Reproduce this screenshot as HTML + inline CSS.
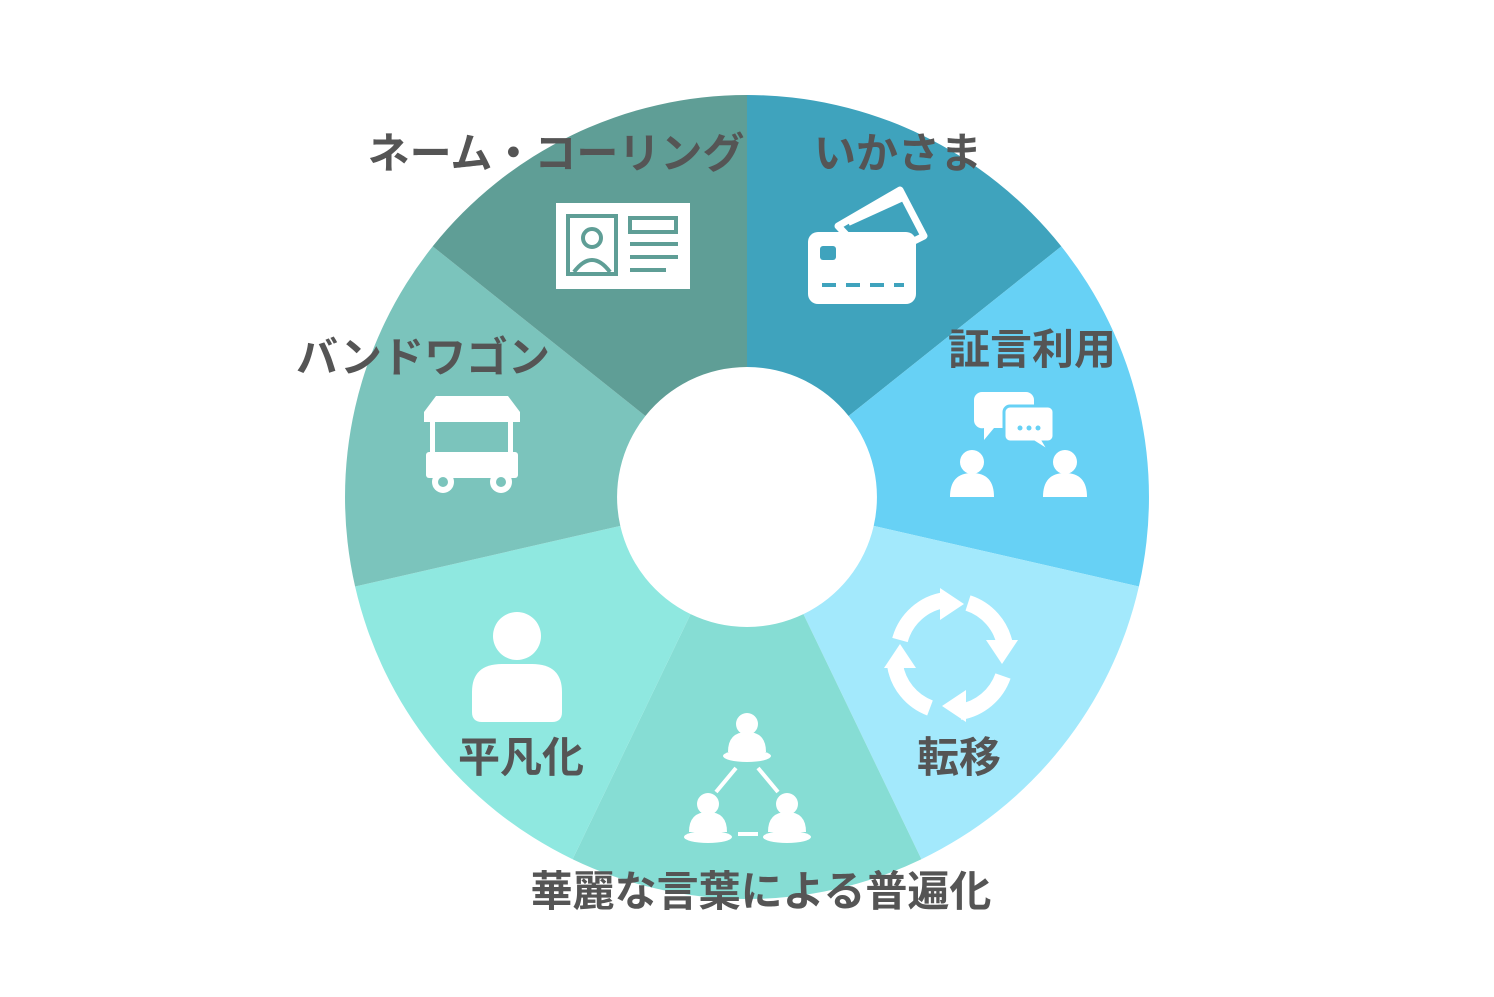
<!DOCTYPE html>
<html><head><meta charset="utf-8"><style>
html,body{margin:0;padding:0;background:#fff;}
svg{display:block}
text{font-family:"Liberation Sans","Noto Sans CJK JP",sans-serif;font-weight:bold;fill:#555;font-size:42px;}
</style></head><body>
<svg width="1494" height="997" viewBox="0 0 1494 997">
<path d="M747,95 A402,402 0 0 1 1061.3,246.4 L848.6,416 A130,130 0 0 0 747,367 Z" fill="#3fa3bd"/>
<path d="M1061.3,246.4 A402,402 0 0 1 1138.9,586.5 L873.7,525.9 A130,130 0 0 0 848.6,416 Z" fill="#67d1f5"/>
<path d="M1138.9,586.5 A402,402 0 0 1 921.4,859.2 L803.4,614.1 A130,130 0 0 0 873.7,525.9 Z" fill="#a3e9fc"/>
<path d="M921.4,859.2 A402,402 0 0 1 572.6,859.2 L690.6,614.1 A130,130 0 0 0 803.4,614.1 Z" fill="#86ddd4"/>
<path d="M572.6,859.2 A402,402 0 0 1 355.1,586.5 L620.3,525.9 A130,130 0 0 0 690.6,614.1 Z" fill="#8fe8e0"/>
<path d="M355.1,586.5 A402,402 0 0 1 432.7,246.4 L645.4,416 A130,130 0 0 0 620.3,525.9 Z" fill="#7bc4bc"/>
<path d="M432.7,246.4 A402,402 0 0 1 747,95 L747,367 A130,130 0 0 0 645.4,416 Z" fill="#5f9e96"/>

<rect x="556" y="203" width="134" height="86" fill="#fff"/>
<rect x="568" y="216" width="48" height="58" fill="none" stroke="#5f9e96" stroke-width="4"/>
<circle cx="592" cy="238" r="9" fill="none" stroke="#5f9e96" stroke-width="4"/>
<path d="M574,272 Q592,248 610,272" fill="none" stroke="#5f9e96" stroke-width="4"/>
<rect x="630" y="218" width="46" height="14" fill="none" stroke="#5f9e96" stroke-width="4"/>
<rect x="630" y="242" width="48" height="4" fill="#5f9e96"/>
<rect x="630" y="255" width="48" height="4" fill="#5f9e96"/>
<rect x="630" y="268" width="36" height="4" fill="#5f9e96"/>

<path d="M838,226 L900,190 L924,236 L872,262 Z" fill="#3fa3bd" stroke="#fff" stroke-width="7" stroke-linejoin="round"/>
<path d="M848,222 L905,196" stroke="#fff" stroke-width="8"/>
<rect x="808" y="232" width="108" height="72" rx="10" fill="#fff"/>
<rect x="820" y="246" width="16" height="14" rx="3" fill="#3fa3bd"/>
<g fill="#3fa3bd"><rect x="822" y="283" width="14" height="4"/><rect x="846" y="283" width="14" height="4"/><rect x="870" y="283" width="14" height="4"/><rect x="894" y="283" width="10" height="4"/></g>

<g fill="#fff">
<path d="M982,392 h44 a8,8 0 0 1 8,8 v20 a8,8 0 0 1 -8,8 h-32 l-10,12 v-12 a8,8 0 0 1 -10,-8 v-20 a8,8 0 0 1 8,-8z"/>
<path d="M1010,406 h38 a6,6 0 0 1 6,6 v24 a6,6 0 0 1 -6,6 h-4 l6,10 l-16,-10 h-24 a6,6 0 0 1 -6,-6 v-24 a6,6 0 0 1 6,-6z" stroke="#67d1f5" stroke-width="3"/>
<circle cx="972" cy="462" r="12"/><path d="M950,497 q0,-24 22,-24 q22,0 22,24z"/>
<circle cx="1065" cy="462" r="12"/><path d="M1043,497 q0,-24 22,-24 q22,0 22,24z"/>
</g>
<g fill="#67d1f5"><circle cx="1020" cy="428" r="2.5"/><circle cx="1029" cy="428" r="2.5"/><circle cx="1038" cy="428" r="2.5"/></g>

<g fill="none" stroke="#fff" stroke-width="16">
<path d="M900,640 A55,55 0 0 1 945,600"/><path d="M968,603 A55,55 0 0 1 1005,645"/>
<path d="M1003,676 A55,55 0 0 1 960,712"/><path d="M930,708 A55,55 0 0 1 895,665"/>
</g>
<g fill="#fff">
<path d="M940,588 l24,16 l-24,16z"/><path d="M1018,640 l-16,24 l-16,-24z"/>
<path d="M966,722 l-24,-16 l24,-16z"/><path d="M884,668 l16,-24 l16,24z"/>
</g>

<g fill="#fff">
<circle cx="747" cy="724" r="11"/><path d="M728,752 q0,-20 19,-20 q19,0 19,20z"/><ellipse cx="747" cy="756" rx="24" ry="6"/>
<circle cx="708" cy="804" r="11"/><path d="M689,832 q0,-20 19,-20 q19,0 19,20z"/><ellipse cx="708" cy="837" rx="24" ry="6"/>
<circle cx="787" cy="804" r="11"/><path d="M768,832 q0,-20 19,-20 q19,0 19,20z"/><ellipse cx="787" cy="837" rx="24" ry="6"/>
</g>
<g stroke="#fff" stroke-width="4"><line x1="736" y1="768" x2="716" y2="792"/><line x1="758" y1="768" x2="778" y2="792"/><line x1="738" y1="834" x2="758" y2="834"/></g>

<g fill="#fff"><circle cx="517" cy="636" r="24"/><path d="M472,712 v-20 q0,-28 30,-28 h30 q30,0 30,28 v20 q0,10 -10,10 h-70 q-10,0 -10,-10z"/></g>

<g fill="#fff">
<path d="M424,412 l12,-16 h72 l12,16 z"/>
<rect x="424" y="412" width="96" height="10"/>
<rect x="430" y="422" width="5" height="30"/><rect x="508" y="422" width="5" height="30"/>
<rect x="426" y="452" width="92" height="26" rx="3"/>
<circle cx="443" cy="482" r="11"/><circle cx="501" cy="482" r="11"/>
</g>
<g fill="#7bc4bc"><circle cx="443" cy="482" r="5"/><circle cx="501" cy="482" r="5"/></g>

<text x="556" y="168" text-anchor="middle">ネーム・コーリング</text>
<text x="898" y="168" text-anchor="middle">いかさま</text>
<text x="1032" y="364" text-anchor="middle">証言利用</text>
<text x="423" y="372" text-anchor="middle">バンドワゴン</text>
<text x="521" y="772" text-anchor="middle">平凡化</text>
<text x="959" y="772" text-anchor="middle">転移</text>
<text x="761" y="906" text-anchor="middle">華麗な言葉による普遍化</text>
</svg>
</body></html>
